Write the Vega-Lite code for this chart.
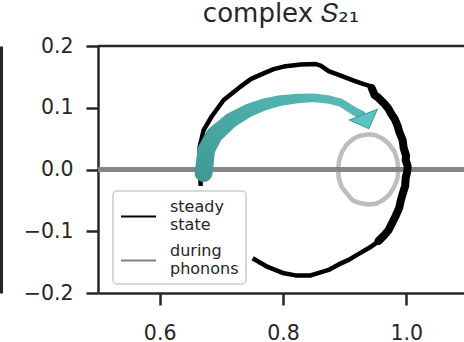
{
  "$schema": "https://vega.github.io/schema/vega-lite/v6.json",
  "width": 366,
  "height": 247,
  "autosize": "none",
  "padding": {"left": 98, "top": 46, "right": 0, "bottom": 49},
  "background": "white",
  "title": {
    "text": "complex 𝑆₂₁",
    "font": "DejaVu Sans",
    "fontSize": 26,
    "fontWeight": "normal",
    "color": "#262626",
    "anchor": "middle",
    "frame": "group",
    "baseline": "alphabetic",
    "offset": 13,
    "dy": 24.5
  },
  "config": {
    "view": {"stroke": null},
    "axis": {
      "domainColor": "#262626",
      "domainWidth": 2.5,
      "tickColor": "#262626",
      "tickWidth": 2.5,
      "tickSize": 12,
      "labelFont": "DejaVu Sans",
      "labelFontSize": 20.5,
      "labelColor": "#262626",
      "grid": false
    },
    "axisX": {"labelPadding": 18.5},
    "axisY": {"labelPadding": 13}
  },
  "datasets": {
    "black": [
      {"i": 0, "x": 0.6665, "y": -0.0267, "s": "steady state"},
      {"i": 1, "x": 0.6657, "y": -0.0040, "s": "steady state"},
      {"i": 2, "x": 0.6649, "y": 0.0186, "s": "steady state"},
      {"i": 3, "x": 0.6649, "y": 0.0364, "s": "steady state"},
      {"i": 4, "x": 0.6713, "y": 0.0639, "s": "steady state"},
      {"i": 5, "x": 0.6843, "y": 0.0858, "s": "steady state"},
      {"i": 6, "x": 0.7038, "y": 0.1125, "s": "steady state"},
      {"i": 7, "x": 0.7313, "y": 0.1343, "s": "steady state"},
      {"i": 8, "x": 0.7476, "y": 0.1464, "s": "steady state"},
      {"i": 9, "x": 0.7638, "y": 0.1537, "s": "steady state"},
      {"i": 10, "x": 0.7849, "y": 0.1626, "s": "steady state"},
      {"i": 11, "x": 0.8011, "y": 0.1667, "s": "steady state"},
      {"i": 12, "x": 0.8286, "y": 0.1699, "s": "steady state"},
      {"i": 13, "x": 0.8530, "y": 0.1707, "s": "steady state"},
      {"i": 14, "x": 0.8611, "y": 0.1683, "s": "steady state"},
      {"i": 15, "x": 0.8740, "y": 0.1594, "s": "steady state"},
      {"i": 16, "x": 0.8935, "y": 0.1521, "s": "steady state"},
      {"i": 17, "x": 0.9146, "y": 0.1440, "s": "steady state"},
      {"i": 18, "x": 0.9308, "y": 0.1383, "s": "steady state"},
      {"i": 19, "x": 0.9421, "y": 0.1351, "s": "steady state"},
      {"i": 20, "x": 0.9454, "y": 0.1286, "s": "steady state"},
      {"i": 21, "x": 0.9486, "y": 0.1222, "s": "steady state"},
      {"i": 22, "x": 0.9584, "y": 0.1133, "s": "steady state"},
      {"i": 23, "x": 0.9681, "y": 0.1044, "s": "steady state"},
      {"i": 24, "x": 0.9762, "y": 0.0930, "s": "steady state"},
      {"i": 25, "x": 0.9827, "y": 0.0801, "s": "steady state"},
      {"i": 26, "x": 0.9875, "y": 0.0672, "s": "steady state"},
      {"i": 27, "x": 0.9924, "y": 0.0526, "s": "steady state"},
      {"i": 28, "x": 0.9957, "y": 0.0364, "s": "steady state"},
      {"i": 29, "x": 0.9989, "y": 0.0202, "s": "steady state"},
      {"i": 30, "x": 1.0005, "y": 0.0040, "s": "steady state"},
      {"i": 31, "x": 0.9997, "y": -0.0121, "s": "steady state"},
      {"i": 32, "x": 0.9973, "y": -0.0283, "s": "steady state"},
      {"i": 33, "x": 0.9932, "y": -0.0445, "s": "steady state"},
      {"i": 34, "x": 0.9884, "y": -0.0607, "s": "steady state"},
      {"i": 35, "x": 0.9827, "y": -0.0769, "s": "steady state"},
      {"i": 36, "x": 0.9762, "y": -0.0898, "s": "steady state"},
      {"i": 37, "x": 0.9681, "y": -0.1028, "s": "steady state"},
      {"i": 38, "x": 0.9584, "y": -0.1141, "s": "steady state"},
      {"i": 39, "x": 0.9421, "y": -0.1254, "s": "steady state"},
      {"i": 40, "x": 0.9227, "y": -0.1367, "s": "steady state"},
      {"i": 41, "x": 0.9065, "y": -0.1464, "s": "steady state"},
      {"i": 42, "x": 0.8903, "y": -0.1537, "s": "steady state"},
      {"i": 43, "x": 0.8740, "y": -0.1626, "s": "steady state"},
      {"i": 44, "x": 0.8448, "y": -0.1715, "s": "steady state"},
      {"i": 45, "x": 0.8205, "y": -0.1715, "s": "steady state"},
      {"i": 46, "x": 0.7994, "y": -0.1675, "s": "steady state"},
      {"i": 47, "x": 0.7751, "y": -0.1578, "s": "steady state"},
      {"i": 48, "x": 0.7508, "y": -0.1437, "s": "steady state"}
    ],
    "thick": [
      {"i": 0, "x": 0.9438, "y": 0.1319},
      {"i": 1, "x": 0.9486, "y": 0.1205},
      {"i": 2, "x": 0.9551, "y": 0.1157},
      {"i": 3, "x": 0.9648, "y": 0.1060},
      {"i": 4, "x": 0.9713, "y": 0.0979},
      {"i": 5, "x": 0.9746, "y": 0.0914},
      {"i": 6, "x": 0.9811, "y": 0.0817},
      {"i": 7, "x": 0.9859, "y": 0.0704},
      {"i": 8, "x": 0.9892, "y": 0.0591},
      {"i": 9, "x": 0.9940, "y": 0.0477},
      {"i": 10, "x": 0.9957, "y": 0.0348},
      {"i": 11, "x": 0.9997, "y": 0.0218},
      {"i": 12, "x": 0.9989, "y": 0.0154},
      {"i": 13, "x": 1.0021, "y": 0.0057},
      {"i": 14, "x": 1.0013, "y": -0.0040},
      {"i": 15, "x": 0.9989, "y": -0.0138},
      {"i": 16, "x": 0.9981, "y": -0.0267},
      {"i": 17, "x": 0.9940, "y": -0.0396},
      {"i": 18, "x": 0.9908, "y": -0.0510},
      {"i": 19, "x": 0.9884, "y": -0.0623},
      {"i": 20, "x": 0.9827, "y": -0.0752},
      {"i": 21, "x": 0.9778, "y": -0.0850},
      {"i": 22, "x": 0.9713, "y": -0.0979},
      {"i": 23, "x": 0.9632, "y": -0.1076},
      {"i": 24, "x": 0.9551, "y": -0.1157}
    ],
    "gray": [
      {"i": 0, "x": 0.9870, "y": 0.0000},
      {"i": 1, "x": 0.9853, "y": 0.0148},
      {"i": 2, "x": 0.9808, "y": 0.0290},
      {"i": 3, "x": 0.9722, "y": 0.0408},
      {"i": 4, "x": 0.9625, "y": 0.0494},
      {"i": 5, "x": 0.9500, "y": 0.0556},
      {"i": 6, "x": 0.9385, "y": 0.0572},
      {"i": 7, "x": 0.9250, "y": 0.0548},
      {"i": 8, "x": 0.9140, "y": 0.0498},
      {"i": 9, "x": 0.9030, "y": 0.0400},
      {"i": 10, "x": 0.8960, "y": 0.0290},
      {"i": 11, "x": 0.8910, "y": 0.0150},
      {"i": 12, "x": 0.8895, "y": 0.0000},
      {"i": 13, "x": 0.8905, "y": -0.0145},
      {"i": 14, "x": 0.8950, "y": -0.0280},
      {"i": 15, "x": 0.9040, "y": -0.0395},
      {"i": 16, "x": 0.9130, "y": -0.0500},
      {"i": 17, "x": 0.9255, "y": -0.0548},
      {"i": 18, "x": 0.9380, "y": -0.0568},
      {"i": 19, "x": 0.9510, "y": -0.0555},
      {"i": 20, "x": 0.9628, "y": -0.0490},
      {"i": 21, "x": 0.9725, "y": -0.0405},
      {"i": 22, "x": 0.9800, "y": -0.0285},
      {"i": 23, "x": 0.9855, "y": -0.0150},
      {"i": 24, "x": 0.9870, "y": 0.0000}
    ],
    "arrow": [
      {"t": 0, "x": 0.6713, "y": -0.0057},
      {"t": 1, "x": 0.6756, "y": 0.0316},
      {"t": 2, "x": 0.6884, "y": 0.0558},
      {"t": 3, "x": 0.7161, "y": 0.0801},
      {"t": 4, "x": 0.7427, "y": 0.0950},
      {"t": 5, "x": 0.7686, "y": 0.1050},
      {"t": 6, "x": 0.7962, "y": 0.1118},
      {"t": 7, "x": 0.8238, "y": 0.1149},
      {"t": 8, "x": 0.8497, "y": 0.1162},
      {"t": 9, "x": 0.8740, "y": 0.1133},
      {"t": 10, "x": 0.8935, "y": 0.1084},
      {"t": 11, "x": 0.9146, "y": 0.0951},
      {"t": 12, "x": 0.9275, "y": 0.0882}
    ],
    "head": [{"x": 0.9347, "y": 0.0774}],
    "zero": [{"y": 0}],
    "top": [{"y": 0.2}]
  },
  "resolve": {"axis": {"y": "independent"}},
  "layer": [
    {
      "layer": [
        {
          "data": {"name": "gray"},
          "mark": {"type": "line", "strokeWidth": 4.5, "strokeJoin": "round", "color": "#bdbdbd"},
          "encoding": {
            "x": {"field": "x", "type": "quantitative", "scale": {"domain": [0.5, 1.0935], "nice": false, "zero": false}, "axis": {"title": null, "values": [0.6, 0.8, 1.0], "format": ".1f"}},
            "y": {"field": "y", "type": "quantitative", "scale": {"domain": [-0.2, 0.2], "nice": false, "zero": false}, "axis": {"title": null, "values": [-0.2, -0.1, 0, 0.1, 0.2], "format": ".1f"}},
            "order": {"field": "i", "type": "quantitative"}
          }
        },
        {
          "data": {"name": "zero"},
          "mark": {"type": "rule", "color": "#858585", "strokeWidth": 5},
          "encoding": {
            "y": {"field": "y", "type": "quantitative", "scale": {"domain": [-0.2, 0.2], "nice": false, "zero": false}, "axis": {"title": null, "values": [-0.2, -0.1, 0, 0.1, 0.2], "format": ".1f"}}
          }
        },
        {
          "data": {"name": "black"},
          "mark": {"type": "line", "strokeWidth": 4.5, "strokeJoin": "round"},
          "encoding": {
            "x": {"field": "x", "type": "quantitative", "scale": {"domain": [0.5, 1.0935], "nice": false, "zero": false}, "axis": {"title": null, "values": [0.6, 0.8, 1.0], "format": ".1f"}},
            "y": {"field": "y", "type": "quantitative", "scale": {"domain": [-0.2, 0.2], "nice": false, "zero": false}, "axis": {"title": null, "values": [-0.2, -0.1, 0, 0.1, 0.2], "format": ".1f"}},
            "order": {"field": "i", "type": "quantitative"},
            "color": {
              "field": "s", "type": "nominal",
              "scale": {"domain": ["steady state", "during phonons"], "range": ["#000000", "#808080"]},
              "legend": {
                "title": null,
                "orient": "none",
                "legendX": 15,
                "legendY": 145,
                "symbolType": "stroke",
                "symbolSize": 1225,
                "symbolStrokeWidth": 2,
                "labelFont": "DejaVu Sans",
                "labelFontSize": 16,
                "labelColor": "#262626",
                "labelExpr": "split(datum.label, ' ')",
                "labelOffset": 13,
                "labelLimit": 0,
                "padding": 7,
                "rowPadding": 9,
                "fillColor": "rgba(255,255,255,0.85)",
                "strokeColor": "#cccccc",
                "cornerRadius": 4,
                "encode": {
                  "labels": {"update": {"lineHeight": {"value": 18.3}, "dy": {"value": -10}}},
                  "legend": {"update": {"strokeWidth": {"value": 1.5}}}
                }
              }
            }
          }
        },
        {
          "data": {"name": "thick"},
          "mark": {"type": "line", "strokeWidth": 8, "color": "#000000", "strokeJoin": "round", "strokeCap": "round"},
          "encoding": {
            "x": {"field": "x", "type": "quantitative", "scale": {"domain": [0.5, 1.0935], "nice": false, "zero": false}, "axis": {"title": null, "values": [0.6, 0.8, 1.0], "format": ".1f"}},
            "y": {"field": "y", "type": "quantitative", "scale": {"domain": [-0.2, 0.2], "nice": false, "zero": false}, "axis": {"title": null, "values": [-0.2, -0.1, 0, 0.1, 0.2], "format": ".1f"}},
            "order": {"field": "i", "type": "quantitative"}
          }
        },
        {
          "data": {"name": "arrow"},
          "mark": {
            "type": "trail",
            "fill": {"gradient": "linear", "x1": 0, "y1": 1, "x2": 1, "y2": 0, "stops": [{"offset": 0, "color": "#3f9792"}, {"offset": 1, "color": "#58bdb9"}]}
          },
          "encoding": {
            "x": {"field": "x", "type": "quantitative", "scale": {"domain": [0.5, 1.0935], "nice": false, "zero": false}, "axis": {"title": null, "values": [0.6, 0.8, 1.0], "format": ".1f"}},
            "y": {"field": "y", "type": "quantitative", "scale": {"domain": [-0.2, 0.2], "nice": false, "zero": false}, "axis": {"title": null, "values": [-0.2, -0.1, 0, 0.1, 0.2], "format": ".1f"}},
            "order": {"field": "t", "type": "quantitative"},
            "size": {"field": "t", "type": "quantitative", "legend": null, "scale": {"type": "linear", "domain": [0, 2, 4, 6, 8, 10, 12], "range": [18, 17, 13.4, 10.5, 8.7, 8, 8.5]}}
          }
        },
        {
          "data": {"name": "head"},
          "mark": {
            "type": "point",
            "shape": "M-1,-0.5L1,-0.5L0,0.5Z",
            "filled": true,
            "size": 900,
            "angle": 339,
            "color": "#5cc4c1",
            "stroke": "#3f9792",
            "strokeWidth": 1,
            "opacity": 1
          },
          "encoding": {
            "x": {"field": "x", "type": "quantitative", "scale": {"domain": [0.5, 1.0935], "nice": false, "zero": false}, "axis": {"title": null, "values": [0.6, 0.8, 1.0], "format": ".1f"}},
            "y": {"field": "y", "type": "quantitative", "scale": {"domain": [-0.2, 0.2], "nice": false, "zero": false}, "axis": {"title": null, "values": [-0.2, -0.1, 0, 0.1, 0.2], "format": ".1f"}}
          }
        }
      ]
    },
    {
      "data": {"name": "top"},
      "mark": {"type": "rule", "color": "#262626", "strokeWidth": 2.5},
      "encoding": {
        "y": {"field": "y", "type": "quantitative", "scale": {"domain": [-0.2, 0.2], "nice": false, "zero": false}, "axis": {"title": null, "orient": "left", "offset": 97, "labels": false, "ticks": false, "domainWidth": 3}}
      }
    }
  ]
}
